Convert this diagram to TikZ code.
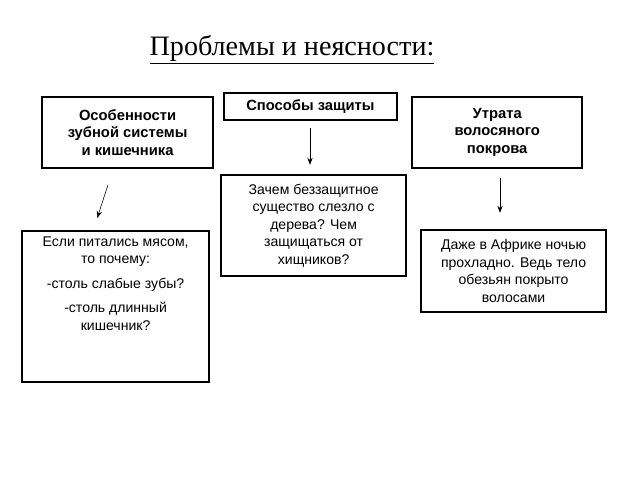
\documentclass[tikz,border=0pt]{standalone}
\usepackage{fontspec}
\setmainfont{Liberation Sans}
\newfontfamily\titlefont{Liberation Serif}
\usetikzlibrary{arrows.meta, positioning}

\begin{document}
\begin{tikzpicture}[
    % Node styles
    headbox/.style={
        rectangle,
        draw=black,
        line width=1.2pt,
        fill=white,
        font=\fontsize{10.5}{12.5}\selectfont\bfseries,
        align=center,
        inner sep=2pt
    },
    notebox/.style={
        rectangle,
        draw=black,
        line width=1.2pt,
        fill=white,
        font=\fontsize{10}{12.5}\selectfont,
        align=center,
        inner sep=2pt
    },
    arrow/.style={
        -{Stealth[length=5pt]},
        thin,
        black
    }
]
\useasboundingbox (0,0) rectangle (16,12);

% === Title ===
\node[font=\titlefont\fontsize{20}{24}\selectfont] (title) at (7.3, 10.75) {\underline{Проблемы и неясности:}};

% === Top row ===
\node[headbox, minimum width=4.33cm, minimum height=0.68cm] (ways) at (7.76, 9.34) {Способы защиты};
\node[headbox, minimum width=4.28cm, minimum height=1.78cm] (teeth) at (3.19, 8.69)
    {Особенности\\зубной системы\\и кишечника};
\node[headbox, minimum width=4.25cm, minimum height=1.78cm] (hair) at (12.43, 8.69)
    {Утрата\\волосяного\\покрова};

% === Questions ===
\node[notebox, minimum width=4.63cm, minimum height=2.53cm] (climb) at (7.84, 6.36)
    {Зачем беззащитное\\существо слезло с\\дерева? Чем\\защищаться от\\хищников?};
\node[notebox, minimum width=4.68cm, minimum height=3.78cm, anchor=north] (meat) at (2.89, 6.25)
    {\parbox[t][3.5cm][t]{4.4cm}{\centering Если питались мясом,\\то почему:\\[5pt]
     -столь слабые зубы?\\[5pt] -столь длинный\\кишечник?}};
\node[notebox, minimum width=4.63cm, minimum height=2.05cm] (cold) at (12.84, 5.23)
    {Даже в Африке ночью\\прохладно. Ведь тело\\обезьян покрыто\\волосами};

% === Arrows ===
\coordinate (a1) at (2.70, 7.38);
\coordinate (b1) at (2.43, 6.55);
\coordinate (a2) at (7.75, 8.80);
\coordinate (b2) at (7.75, 7.88);
\coordinate (a3) at (12.50, 7.55);
\coordinate (b3) at (12.50, 6.68);
\draw[arrow] (a1) -- (b1);
\draw[arrow] (a2) -- (b2);
\draw[arrow] (a3) -- (b3);

\end{tikzpicture}
\end{document}
